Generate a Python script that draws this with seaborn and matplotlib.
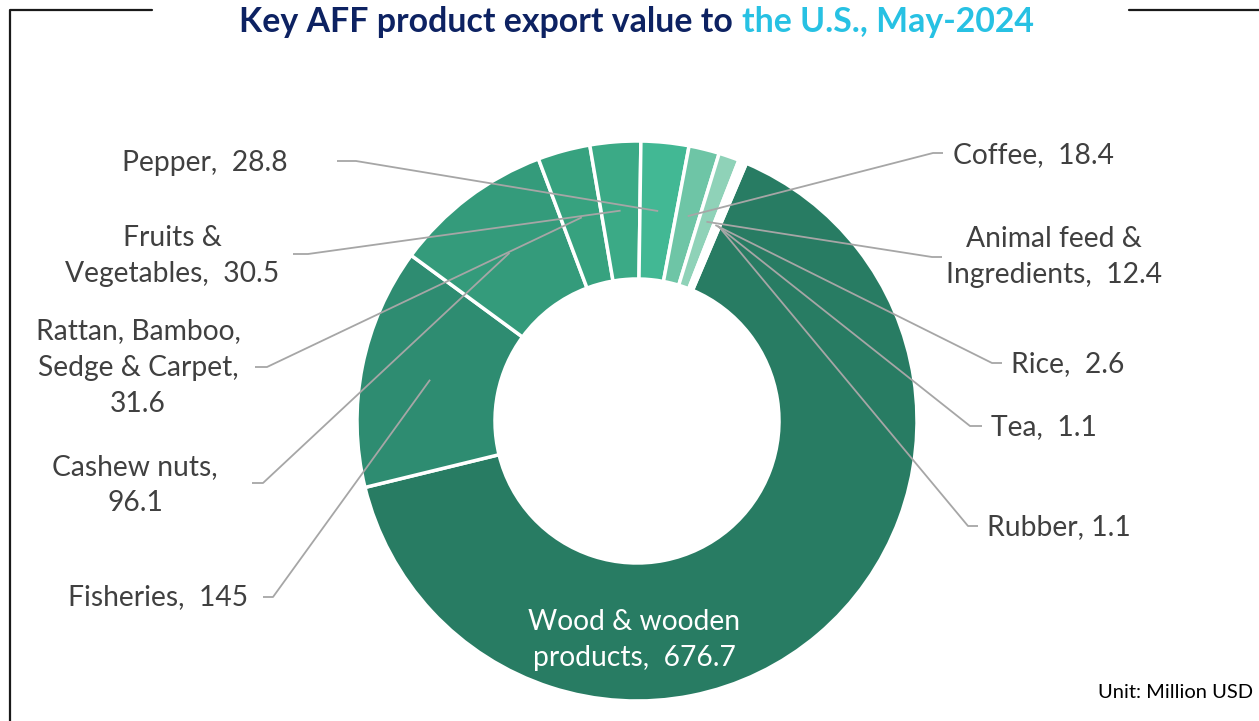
'''
donut chart of key AFF product exports to the U.S.
'''
import numpy as np
import seaborn as sns
import matplotlib.pyplot as plt

sns.set_theme(style="white")
plt.rcParams['font.family'] = ['Lato', 'DejaVu Sans']

# ---- data (clockwise from the top-right)
products = ['Wood & wooden\nproducts', 'Fisheries', 'Cashew nuts,\n', 'Rattan, Bamboo,\nSedge & Carpet,\n',
            'Fruits &\nVegetables', 'Pepper', 'Coffee', 'Animal feed &\nIngredients', 'Rice', 'Tea', 'Rubber']
values = [676.7, 145, 96.1, 31.6, 30.5, 28.8, 18.4, 12.4, 2.6, 1.1, 1.1]
value_txt = ['676.7', '145', '96.1', '31.6', '30.5', '28.8', '18.4', '12.4', '2.6', '1.1', '1.1']
colors = ['#287C63', '#2E8C71', '#349B7B', '#37A27F', '#3BAA86', '#42B894',
          '#6EC5A6', '#8FD2B8', '#FFFFFF', '#FFFFFF', '#FFFFFF']

# ---- layout (pixels, y from top)
W, H = 1259, 721
cx, cy, R, ring = 637, 421, 280, 138
label_xy = [None, (158, 597), (135, 485), (138, 368), (172, 256), (205, 163),
            (1033, 155), (1054, 257), (1068, 364), (1044, 427), (1059, 527)]
stub = [None, (263, 273), (252, 263), (255, 267), (293, 308), (337, 356),
        (943, 933), (942, 932), (1002, 992), (982, 970), (978, 968)]
stub_y = [None, 597, 483, 367, 254, 161, 153, 257, 363, 426, 526]

fig = plt.figure(figsize=(W / 100, H / 100), dpi=100)
ax = fig.add_axes([0, 0, 1, 1])

wedges, _ = ax.pie(values, colors=colors, startangle=67, counterclock=False,
                   center=(cx, H - cy), radius=R,
                   wedgeprops=dict(width=ring, edgecolor='white', linewidth=2.5))
ax.set_xlim(0, W)
ax.set_ylim(0, H)
ax.set_aspect('equal')
ax.axis('off')

gray = '#A6A6A6'
txt = '#404040'
fs = 20.3
for i, w in enumerate(wedges):
    name = products[i]
    if name.endswith('\n'):
        label = name + value_txt[i]
    elif name == 'Rubber':
        label = name + ', ' + value_txt[i]
    else:
        label = name + ',  ' + value_txt[i]
    if i == 0:
        ax.text(634, H - 640, label, color='white',
                fontsize=fs, ha='center', va='center', linespacing=1.5)
        continue
    mid = np.deg2rad((w.theta1 + w.theta2) / 2)
    rm = R - ring / 2
    px, py = cx + rm * np.cos(mid), (H - cy) + rm * np.sin(mid)
    sx0, sx1 = stub[i]
    sy = H - stub_y[i]
    ax.plot([sx0, sx1, px], [sy, sy, py], color=gray, lw=1.3, solid_capstyle='butt')
    lx, ly = label_xy[i]
    ax.text(lx, H - ly, label, color=txt, fontsize=fs, ha='center', va='center',
            linespacing=1.5)

# ---- title in two colours
fig.text(741 / W, 1 - 22 / H, 'Key AFF product export value to ', color='#0D2262',
         fontsize=24.4, fontweight='bold', ha='right', va='center')
fig.text(742 / W, 1 - 22 / H, 'the U.S., May-2024', color='#27C1E3',
         fontsize=24.4, fontweight='bold', ha='left', va='center')

# ---- frame pieces
ax.plot([10, 10, 152], [0, H - 10, H - 10], color='#1A1A1A', lw=1.6)
ax.plot([1129, W], [H - 10, H - 10], color='#1A1A1A', lw=1.6)

fig.text(1253 / W, 1 - 693 / H, 'Unit: Million USD', color='black', fontsize=14.5,
         ha='right', va='center')

plt.savefig('out.png', dpi=100)
